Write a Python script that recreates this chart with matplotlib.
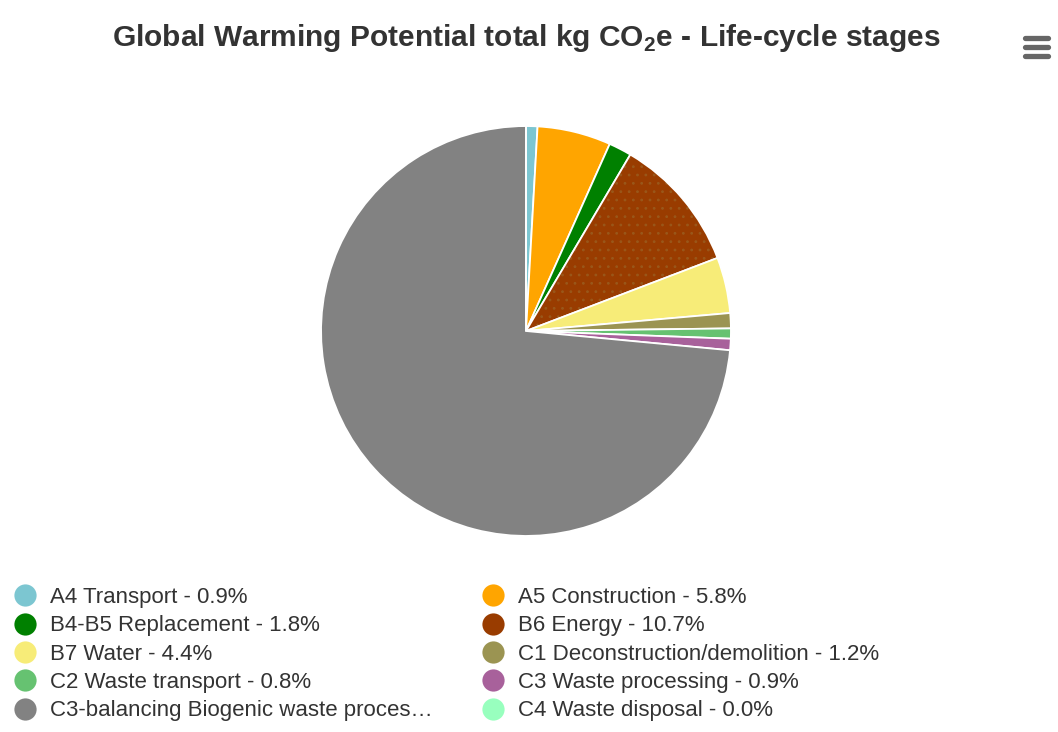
import matplotlib.pyplot as plt
from matplotlib.lines import Line2D

plt.rcParams['font.family'] = ['Liberation Sans', 'DejaVu Sans']
plt.rcParams['mathtext.fontset'] = 'custom'
plt.rcParams['mathtext.rm'] = 'Liberation Sans:bold'
plt.rcParams['mathtext.bf'] = 'Liberation Sans:bold'
plt.rcParams['hatch.linewidth'] = 0.8

# life-cycle stages and their share of total GWP (%)
stages = ['A4 Transport', 'A5 Construction', 'B4-B5 Replacement', 'B6 Energy',
          'B7 Water', 'C1 Deconstruction/demolition', 'C2 Waste transport',
          'C3 Waste processing', 'C3-balancing Biogenic waste processing',
          'C4 Waste disposal']
shares = [0.9, 5.8, 1.8, 10.7, 4.4, 1.2, 0.8, 0.9, 73.5, 0.0]
colors = ['#7cc6d1', '#ffa500', '#008000', '#993c00', '#f7ec78',
          '#9b9452', '#66c271', '#a8619b', '#828282', '#98ffbe']
hatches = [None, None, None, '..', None, None, None, None, None, None]

W, H = 1058, 732
fig = plt.figure(figsize=(W / 100, H / 100), dpi=100)

cx, cy, r = 526, 331, 207
ax = fig.add_axes([(cx - r) / W, (H - cy - r) / H, 2 * r / W, 2 * r / H])
wedges, _ = ax.pie(shares, colors=colors, startangle=90, counterclock=False,
                   radius=1, wedgeprops=dict(edgecolor='white', linewidth=1.3))
for w, h in zip(wedges, hatches):
    if h:
        # faint dotted texture on the energy slice
        w.set_hatch(h)
        w._hatch_color = (0.6, 0.34, 0.1, 1)
ax.set_xlim(-1.01, 1.01)
ax.set_ylim(-1.01, 1.01)
ax.axis('off')

fig.text(cx / W, 1 - 38 / H,
         r'Global Warming Potential total kg CO$_\mathbf{2}$e - Life-cycle stages',
         ha='center', va='center', fontsize=21.5, fontweight='bold', color='#333333')

# hamburger menu icon
for yy in (38, 47, 56):
    fig.add_artist(Line2D([1025 / W, 1048 / W], [1 - yy / H, 1 - yy / H],
                          color='#666666', linewidth=3.8, solid_capstyle='round'))


def short(name, n=34):
    return name if len(name) <= n else name[:n] + '…'


labels = []
for name, v in zip(stages, shares):
    if 'balancing' in name:
        labels.append(short(name))
    else:
        labels.append(f'{name} - {v:.1f}%')

handles = [Line2D([], [], marker='o', linestyle='none', markersize=16,
                  markerfacecolor=c, markeredgecolor='none') for c in colors]

col_x = [14, 482]
for k in range(2):
    idx = list(range(k, len(stages), 2))
    fig.legend([handles[i] for i in idx], [labels[i] for i in idx],
               loc='upper left', bbox_to_anchor=(col_x[k] / W, 1 - 587 / H),
               frameon=False, fontsize=16, labelcolor='#333333',
               handletextpad=0.6, handlelength=1.0, labelspacing=0.33,
               borderpad=0, borderaxespad=0)

fig.savefig('out.png', dpi=100, facecolor='white')
